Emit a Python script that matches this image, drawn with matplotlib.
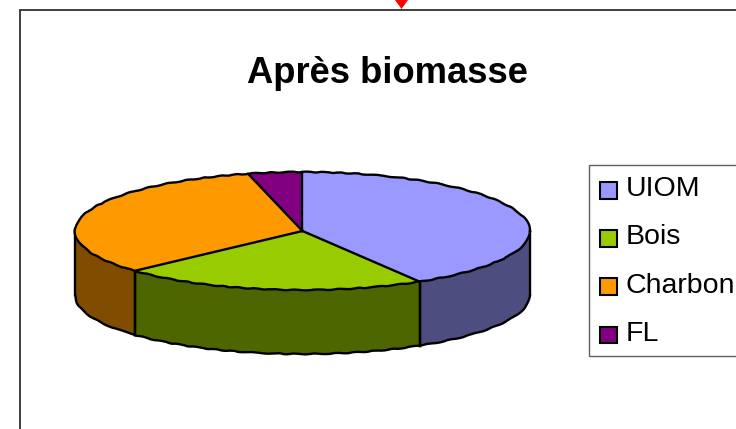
import numpy as np
import matplotlib
matplotlib.use('Agg')
import matplotlib.pyplot as plt
from matplotlib.patches import Polygon, Rectangle

plt.rcParams['font.family'] = ['Liberation Sans', 'DejaVu Sans']

# valeurs (%)
labels = ['UIOM', 'Bois', 'Charbon', 'FL']
values = [41.4, 21.8, 32.95, 3.85]
colors = ['#9999FF', '#99CC00', '#FF9900', '#800080']
side_colors = ['#4D4D80', '#4D6600', '#804D00', '#400040']

W, H = 736, 429
cx, cy, rx, ry = 302.5, 231, 227.5, 59
depth = 64
sketch = (0.4, 22, 3)  # contour un peu irregulier comme l'original

fig = plt.figure(figsize=(W / 100, H / 100), dpi=100, facecolor='white')

# fond en pixels : cadre, triangle rouge, titre, boite de legende
bg = fig.add_axes([0, 0, 1, 1])
bg.set_xlim(0, W)
bg.set_ylim(H, 0)
bg.axis('off')
bg.add_patch(Rectangle((20, 10), 760, 460, fc='white', ec='#303030', lw=1.3))
bg.add_patch(Polygon([(395, 0), (408, 0), (401.5, 9)], fc='#FF0000', ec='none'))
bg.add_patch(Rectangle((589, 165), 200, 191, fc='white', ec='#606060', lw=1))
bg.text(387, 83, 'Après biomasse', fontsize=26.2, fontweight='bold', ha='center', va='baseline')

# camembert : une unite = le rayon de l'ellipse
ax = fig.add_axes([0, 0, 1, 1])
wedges, _ = ax.pie(values, colors=colors, startangle=90, counterclock=False,
                   radius=1, wedgeprops={'ec': 'none', 'zorder': 5})
ax.set_aspect('auto')
ax.set_xlim(-cx / rx, (W - cx) / rx)
ax.set_ylim((cy - H) / ry, cy / ry)
ax.patch.set_alpha(0)

# parois visibles : moitie basse de l'ellipse
edges = 90 - 360 * np.cumsum([0] + values) / sum(values)
d = depth / ry
for start, end, col in zip(edges[:-1], edges[1:], side_colors):
    lo = max(end, -180)
    hi = min(start, 0)
    if lo >= hi:
        continue
    t = np.radians(np.linspace(hi, lo, 60))
    x = np.cos(t)
    y = np.sin(t)
    pts = np.r_[np.c_[x, y], np.c_[x[::-1], y[::-1] - d]]
    ax.add_patch(Polygon(pts, fc=col, ec='none', zorder=3))
    ax.plot([x[0], x[0]], [y[0], y[0] - d], c='black', lw=1.7, zorder=4)
    ax.plot([x[-1], x[-1]], [y[-1], y[-1] - d], c='black', lw=1.7, zorder=4)
    rim, = ax.plot(x, y - d, c='black', lw=1.7, zorder=4, solid_capstyle='round')
    rim.set_sketch_params(*sketch)

# rayons et bord du dessus
for a in np.radians(edges[:-1]):
    ax.plot([0, np.cos(a)], [0, np.sin(a)], c='black', lw=1.7, zorder=6)
t = np.radians(np.linspace(0, 360, 240))
top, = ax.plot(np.cos(t), np.sin(t), c='black', lw=1.7, zorder=6)
top.set_sketch_params(*sketch)

leg = ax.legend(wedges, labels, loc='upper left', bbox_to_anchor=(589 / W, 1 - 165 / H),
                bbox_transform=fig.transFigure, fontsize=20.5, frameon=False,
                handlelength=0.6, handleheight=0.6, handletextpad=0.3, labelspacing=0.78,
                borderpad=0.39, borderaxespad=0)
for h in leg.legend_handles:
    h.set_edgecolor('black')
    h.set_linewidth(1.5)
    h.set_height(h.get_height() - 1)
    h.set_y(h.get_y() - 2.5)

fig.savefig('out.png', dpi=100)
